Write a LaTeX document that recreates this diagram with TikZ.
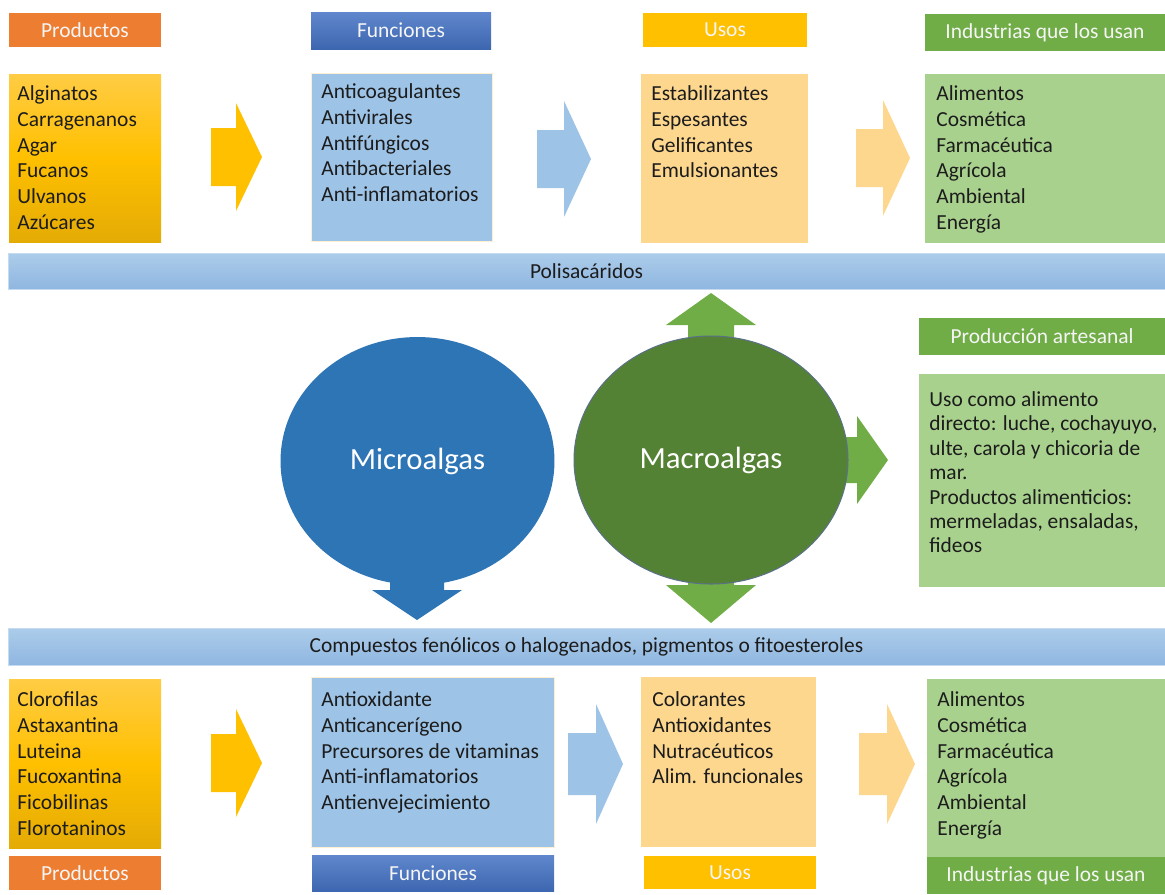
\documentclass[tikz,border=0pt]{standalone}
\usepackage{fontspec}
\setmainfont{Carlito}
\usetikzlibrary{shapes.geometric}

\definecolor{naranja}{HTML}{ED7D31}
\definecolor{azul}{HTML}{4472C4}
\definecolor{oro}{HTML}{FFC000}
\definecolor{oroalto}{HTML}{FFCC44}
\definecolor{orobajo}{HTML}{E4AB05}
\definecolor{verde}{HTML}{70AD47}
\definecolor{azulclaro}{HTML}{9DC3E6}
\definecolor{crema}{HTML}{FED78F}
\definecolor{verdeclaro}{HTML}{A9D18E}
\definecolor{azulmicro}{HTML}{2E75B6}
\definecolor{verdemacro}{HTML}{548235}
\definecolor{texto}{HTML}{1C1C1C}

\newcommand{\letra}{\fontsize{12.2}{14.7}\selectfont}

\tikzset{
  caja/.style args={#1/#2}{anchor=north west, inner sep=0pt, outer sep=0pt, font=\letra,
    minimum width=#1*0.02cm, minimum height=#2*0.02cm},
  blanco/.style={text=white!96!black},
  dorado/.style={top color=oroalto, bottom color=orobajo, middle color=oro},
  azulado/.style={top color=azul!85!white, bottom color=azul!90!black},
  celeste/.style={fill=azulclaro, draw=crema!40!white, line width=0.4pt},
  lista/.style={anchor=north west, inner sep=0pt, align=left, font=\letra, text=texto},
  barra/.style={top color=azulclaro!85!white, bottom color=azulclaro!85!azul, text=texto,
    draw=azulclaro!60!white, line width=0.4pt},
  alga/.style={ellipse, inner sep=0pt, minimum width=5.48cm, minimum height=4.96cm,
    text=white, font=\fontsize{17.5}{21}\selectfont},
  pics/flecha/.style args={#1/#2/#3/#4}{code={
    \fill (0,-#2) -- (#1-#4,-#2) -- (#1-#4,-#3) -- (#1,0) -- (#1-#4,#3) -- (#1-#4,#2) -- (0,#2) -- cycle;
  }}
}

\begin{document}
\begin{tikzpicture}[x=0.02cm, y=-0.02cm]
  \useasboundingbox (0,0) rectangle (1165,894);

  % cabeceras de arriba
  \node[caja=152/34, fill=naranja, blanco] (prod1h) at (9,13) {Productos};
  \node[caja=180/37, azulado, blanco] (func1h) at (311,12) {Funciones};
  \node[caja=164/34, fill=oro, blanco] (usos1h) at (643,13) {Usos};
  \node[caja=240/37, fill=verde, blanco] (ind1h) at (925,14) {Industrias que los usan};

  % cajas de arriba
  \node[caja=152/168, dorado] (prod1) at (9,74) {};
  \node[caja=181/168, celeste] (func1) at (311,73) {};
  \node[caja=167/169, fill=crema] (usos1) at (641,74) {};
  \node[caja=240/169, fill=verdeclaro] (ind1) at (925,74) {};

  \node[lista] (prod1t) at ([shift={(8,8)}]prod1.north west) {\strut Alginatos\\Carragenanos\\Agar\\Fucanos\\Ulvanos\\Azúcares};
  \node[lista] (func1t) at ([shift={(10,7)}]func1.north west) {\strut Anticoagulantes\\Antivirales\\Antifúngicos\\Antibacteriales\\Anti-inflamatorios};
  \node[lista] (usos1t) at ([shift={(10,8)}]usos1.north west) {\strut Estabilizantes\\Espesantes\\Gelificantes\\Emulsionantes};
  \node[lista] (ind1t) at ([shift={(11,8)}]ind1.north west) {\strut Alimentos\\Cosmética\\Farmacéutica\\Agrícola\\Ambiental\\Energía};

  % barras
  \node[caja=1157/36, barra] (poli) at (8,253) {Polisacáridos};
  \node[caja=1157/37, barra] (comp) at (8,628) {Compuestos fenólicos o halogenados, pigmentos o fitoesteroles};

  % flechas entre cajas
  \foreach \x/\y/\l/\s/\h/\p/\c in {211/157/51/29/54/26/oro, 537/159/54/29/58/27/azulclaro,
      856/158/54/29/58/27/crema, 211/763/51/29/54/26/oro, 568/764/55/31/60/27/azulclaro,
      859/764/56/31/60/28/crema}
    \pic[fill=\c] at (\x,\y) {flecha=\l/\s/\h/\p};

  % flechas de las algas
  \pic[rotate=-90, fill=azulmicro] at (417,460) {flecha=160/27/45/30};
  \pic[rotate=90, fill=verde] at (711,460) {flecha=167/23/45/32};
  \pic[rotate=-90, fill=verde] at (711,460) {flecha=163/23/45/38};
  \pic[fill=verde] at (711,460) {flecha=177/23/44/31};

  \node[alga, fill=azulmicro] (micro) at (417.5,461) {Microalgas};
  \node[alga, fill=verdemacro, draw=azulmicro!45!black!70, line width=0.6pt] (macro) at (711,460) {Macroalgas};

  % produccion artesanal
  \node[caja=246/37, fill=verde, blanco] (arth) at (919,318) {Producción artesanal};
  \node[caja=246/213, fill=verdeclaro] (art) at (919,374) {};
  \node[lista, font=\fontsize{12.2}{13.9}\selectfont] (artt) at ([shift={(10,15)}]art.north west)
    {\strut Uso como alimento\\directo: luche, cochayuyo,\\ulte, carola y chicoria de\\mar.\\Productos alimenticios:\\mermeladas, ensaladas,\\fideos};

  % cajas de abajo
  \node[caja=152/169, dorado] (prod2) at (9,679) {};
  \node[caja=243/170, celeste] (func2) at (311,677) {};
  \node[caja=175/170, fill=crema] (usos2) at (641,677) {};
  \node[caja=238/178, fill=verdeclaro] (ind2) at (927,679) {};

  \node[lista] (prod2t) at ([shift={(8,9)}]prod2.north west) {\strut Clorofilas\\Astaxantina\\Luteina\\Fucoxantina\\Ficobilinas\\Florotaninos};
  \node[lista] (func2t) at ([shift={(10,11)}]func2.north west) {\strut Antioxidante\\Anticancerígeno\\Precursores de vitaminas\\Anti-inflamatorios\\Antienvejecimiento};
  \node[lista] (usos2t) at ([shift={(11,11)}]usos2.north west) {\strut Colorantes\\Antioxidantes\\Nutracéuticos\\Alim. funcionales};
  \node[lista] (ind2t) at ([shift={(10,9)}]ind2.north west) {\strut Alimentos\\Cosmética\\Farmacéutica\\Agrícola\\Ambiental\\Energía};

  % cabeceras de abajo
  \node[caja=152/34, fill=naranja, blanco] (prod2h) at (9,856) {Productos};
  \node[caja=242/36, azulado, blanco] (func2h) at (312,855) {Funciones};
  \node[caja=172/33, fill=oro, blanco] (usos2h) at (644,856) {Usos};
  \node[caja=238/37, fill=verde, blanco] (ind2h) at (927,857) {Industrias que los usan};
\end{tikzpicture}
\end{document}
